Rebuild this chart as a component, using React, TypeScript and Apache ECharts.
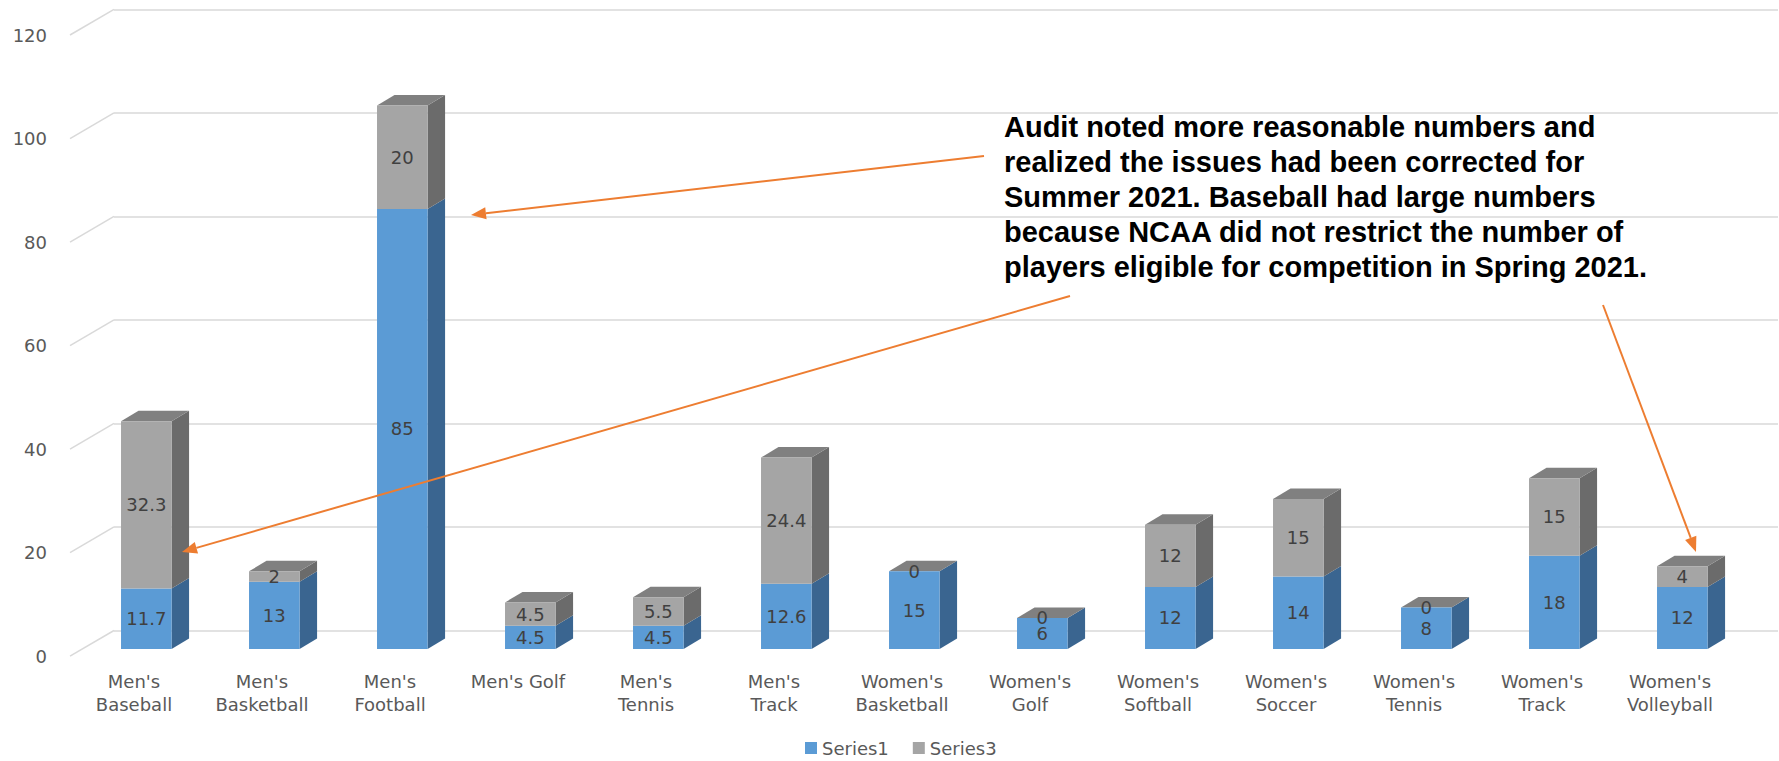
import React, { useEffect, useRef } from "react";
import * as echarts from "echarts";

// ---------- data ----------
const categories = [
  "Men's\nBaseball",
  "Men's\nBasketball",
  "Men's\nFootball",
  "Men's Golf",
  "Men's\nTennis",
  "Men's\nTrack",
  "Women's\nBasketball",
  "Women's\nGolf",
  "Women's\nSoftball",
  "Women's\nSoccer",
  "Women's\nTennis",
  "Women's\nTrack",
  "Women's\nVolleyball",
];
const series1 = [11.7, 13, 85, 4.5, 4.5, 12.6, 15, 6, 12, 14, 8, 18, 12];
const series3 = [32.3, 2, 20, 4.5, 5.5, 24.4, 0, 0, 12, 15, 0, 15, 4];
const seriesNames = ["Series1", "Series3"];
const yTicks = [0, 20, 40, 60, 80, 100, 120];
const annotationLines = [
  "Audit noted more reasonable numbers and",
  "realized the issues had been corrected for",
  "Summer 2021. Baseball had large numbers",
  "because NCAA did not restrict the number of",
  "players eligible for competition in Spring 2021.",
];

// ---------- styles / layout ----------
const W = 1779;
const H = 761;
const WALL = { left: 114, right: 1, top: 9.3, bottom: 130.5 };
const FLOOR_DX = 44;
const FLOOR_DY = 25.7;
const BAR_DX = 31.7;
const BAR_DY = 18.5;
const DEPTH_X = 17.5;
const DEPTH_Y = 10.5;
const BAR_RATIO = 0.395;

const BLUE = "#5b9bd5";
const BLUE_SIDE = "#3a6590";
const GREY = "#a5a5a5";
const GREY_SIDE = "#6b6b6b";
const GREY_TOP = "#808080";
const GRID_COLOR = "#d9d9d9";
const TEXT_COLOR = "#595959";
const LABEL_COLOR = "#404040";
const ORANGE = "#ed7d31";
const FONT = "DejaVu Sans";

function shifted(dx: number, dy: number) {
  return {
    left: WALL.left - dx,
    right: WALL.right + dx,
    top: WALL.top + dy,
    bottom: WALL.bottom - dy,
  };
}

function arrow(x1: number, y1: number, x2: number, y2: number) {
  const ang = Math.atan2(y2 - y1, x2 - x1);
  const L = 15;
  const hw = 6;
  const bx = x2 - L * Math.cos(ang);
  const by = y2 - L * Math.sin(ang);
  const px = -Math.sin(ang) * hw;
  const py = Math.cos(ang) * hw;
  return [
    {
      type: "line",
      z: 100,
      shape: { x1, y1, x2: bx, y2: by },
      style: { stroke: ORANGE, lineWidth: 2 },
    },
    {
      type: "polygon",
      z: 100,
      shape: {
        points: [
          [x2, y2],
          [bx + px, by + py],
          [bx - px, by - py],
        ],
      },
      style: { fill: ORANGE },
    },
  ];
}

const arrows = [
  [984, 156, 471, 215],
  [1070, 296, 182, 552],
  [1603, 305, 1696, 552],
];

export default function App() {
  const ref = useRef<HTMLDivElement>(null);

  useEffect(() => {
    if (!ref.current) return;
    const chart = echarts.init(ref.current, undefined, { renderer: "svg" });

    const yAxisBase = {
      type: "value",
      min: 0,
      max: 120,
      interval: 20,
      axisLine: { show: false },
      axisTick: { show: false },
    };
    const xAxisBase = {
      type: "category",
      data: categories,
      axisLine: { show: false },
      axisTick: { show: false },
    };

    const option: any = {
      animation: false,
      textStyle: { fontFamily: FONT },
      grid: [
        { ...shifted(BAR_DX, BAR_DY) },
        { ...shifted(FLOOR_DX, FLOOR_DY) },
        { ...WALL },
      ],
      xAxis: [
        { ...xAxisBase, gridIndex: 0, axisLabel: { show: false } },
        {
          ...xAxisBase,
          gridIndex: 1,
          axisLabel: {
            show: true,
            interval: 0,
            color: TEXT_COLOR,
            fontSize: 18,
            fontFamily: FONT,
            lineHeight: 23,
            margin: 14,
          },
        },
        { ...xAxisBase, gridIndex: 2, axisLabel: { show: false } },
      ],
      yAxis: [
        { ...yAxisBase, gridIndex: 0, axisLabel: { show: false }, splitLine: { show: false } },
        {
          ...yAxisBase,
          gridIndex: 1,
          axisLabel: { color: TEXT_COLOR, fontSize: 18, fontFamily: FONT, margin: 23 },
          splitLine: { show: false },
        },
        {
          ...yAxisBase,
          gridIndex: 2,
          axisLabel: { show: false },
          splitLine: { show: true, lineStyle: { color: GRID_COLOR, width: 1.5 } },
        },
      ],
      legend: {
        data: seriesNames,
        left: 805,
        top: 739,
        padding: 0,
        icon: "rect",
        itemWidth: 12,
        itemHeight: 12,
        itemGap: 24,
        textStyle: { color: TEXT_COLOR, fontSize: 18, fontFamily: FONT },
      },
      series: [
        {
          type: "custom",
          xAxisIndex: 2,
          yAxisIndex: 2,
          silent: true,
          clip: false,
          z: 0,
          data: yTicks.map((v) => [0, v]),
          renderItem: (params: any, api: any) => {
            const cs = params.coordSys;
            const y = api.coord([0, api.value(1)])[1];
            return {
              type: "line",
              shape: { x1: cs.x, y1: y, x2: cs.x - FLOOR_DX, y2: y + FLOOR_DY },
              style: { stroke: GRID_COLOR, lineWidth: 1.5 },
            };
          },
        },
        {
          type: "custom",
          xAxisIndex: 0,
          yAxisIndex: 0,
          silent: true,
          clip: false,
          z: 1,
          data: categories.map((_, i) => [i, series1[i], series3[i]]),
          renderItem: (params: any, api: any) => {
            const i = api.value(0);
            const a = api.value(1);
            const b = api.value(2);
            const base = api.coord([i, 0]);
            const mid = api.coord([i, a]);
            const top = api.coord([i, a + b]);
            const w = api.size([1, 0])[0] * BAR_RATIO;
            const xL = base[0] - w / 2;
            const xR = base[0] + w / 2;
            const side = (y0: number, y1: number, color: string) => ({
              type: "polygon",
              shape: {
                points: [
                  [xR, y0],
                  [xR + DEPTH_X, y0 - DEPTH_Y],
                  [xR + DEPTH_X, y1 - DEPTH_Y],
                  [xR, y1],
                ],
              },
              style: { fill: color },
            });
            return {
              type: "group",
              children: [
                side(base[1], mid[1], BLUE_SIDE),
                side(mid[1], top[1], GREY_SIDE),
                {
                  type: "polygon",
                  shape: {
                    points: [
                      [xL, top[1]],
                      [xR, top[1]],
                      [xR + DEPTH_X, top[1] - DEPTH_Y],
                      [xL + DEPTH_X, top[1] - DEPTH_Y],
                    ],
                  },
                  style: { fill: GREY_TOP },
                },
              ],
            };
          },
        },
        {
          name: seriesNames[0],
          type: "bar",
          stack: "total",
          xAxisIndex: 0,
          yAxisIndex: 0,
          barWidth: `${BAR_RATIO * 100}%`,
          z: 2,
          data: series1,
          itemStyle: { color: BLUE },
          label: {
            show: true,
            position: "inside",
            color: LABEL_COLOR,
            fontSize: 18,
            fontFamily: FONT,
          },
        },
        {
          name: seriesNames[1],
          type: "bar",
          stack: "total",
          xAxisIndex: 0,
          yAxisIndex: 0,
          barWidth: `${BAR_RATIO * 100}%`,
          z: 2,
          data: series3,
          itemStyle: { color: GREY },
          label: {
            show: true,
            position: "inside",
            color: LABEL_COLOR,
            fontSize: 18,
            fontFamily: FONT,
          },
        },
      ],
      graphic: [
        {
          type: "text",
          z: 100,
          x: 1004,
          y: 109.2,
          style: {
            text: annotationLines.join("\n"),
            fill: "#000000",
            font: 'bold 29px "Liberation Sans", Arial, sans-serif',
            lineHeight: 35,
            align: "left",
            verticalAlign: "top",
          },
        },
        ...arrows.flatMap((a) => arrow(a[0], a[1], a[2], a[3])),
      ],
    };

    chart.setOption(option);
    return () => chart.dispose();
  }, []);

  return (
    <div
      ref={ref}
      style={{ position: "fixed", left: 0, top: 0, width: W, height: H, background: "#ffffff" }}
    />
  );
}
